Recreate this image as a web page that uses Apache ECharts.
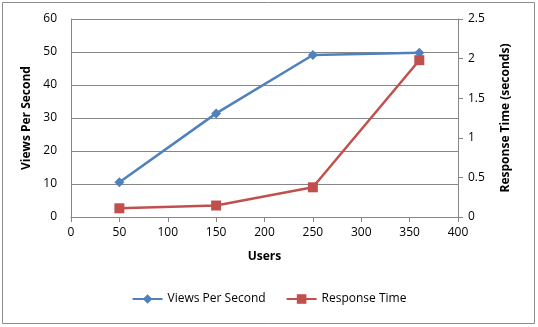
<!DOCTYPE html>
<html><head><meta charset="utf-8">
<script src="https://cdn.jsdelivr.net/npm/echarts@6/dist/echarts.min.js"></script>
<style>html,body{margin:0;padding:0;background:#fff}#c{width:538px;height:327px}</style>
</head><body><div id="c"></div>
<script>
const users = [50, 150, 250, 360];
const viewsPerSecond = [10.5, 31.4, 49.1, 49.8];
const responseTime = [0.11, 0.145, 0.375, 1.98];
const seriesNames = ['Views Per Second', 'Response Time'];
const FONT = '"Open Sans", "Liberation Sans", sans-serif';
const chart = echarts.init(document.getElementById('c'));
const axisLine = {show: true, lineStyle: {color: '#868686', width: 1}};
chart.setOption({
  animation: false,
  graphic: [{type: 'rect', shape: {x: 2.5, y: 2.5, width: 532, height: 321}, style: {fill: 'none', stroke: '#8c8c8c', lineWidth: 1}}],
  grid: {left: 71, right: 80, top: 19, bottom: 110},
  legend: {
    bottom: 17, left: 'center', itemGap: 20, itemWidth: 30, itemHeight: 12,
    textStyle: {fontFamily: FONT, fontSize: 12, color: '#000'},
    data: seriesNames
  },
  xAxis: {
    type: 'value', min: 0, max: 400, interval: 50,
    name: 'Users', nameLocation: 'middle', nameGap: 34,
    nameTextStyle: {fontFamily: FONT, fontSize: 12, fontWeight: 'bold', color: '#000'},
    axisLine: axisLine, axisTick: {show: true, length: 5, lineStyle: {color: '#868686'}},
    axisLabel: {fontFamily: FONT, fontSize: 12, color: '#000', margin: 10},
    splitLine: {show: false}
  },
  yAxis: [{
    type: 'value', min: 0, max: 60, interval: 10, position: 'left',
    name: 'Views Per Second', nameLocation: 'middle', nameGap: 34, nameRotate: 90,
    nameTextStyle: {fontFamily: FONT, fontSize: 12, fontWeight: 'bold', color: '#000'},
    axisLine: axisLine, axisTick: {show: false},
    axisLabel: {fontFamily: FONT, fontSize: 12, color: '#000', margin: 14},
    splitLine: {show: true, lineStyle: {color: '#868686', width: 1}}
  }, {
    type: 'value', min: 0, max: 2.5, interval: 0.5, position: 'right',
    name: 'Response Time (seconds)', nameLocation: 'middle', nameGap: 42, nameRotate: 90,
    nameTextStyle: {fontFamily: FONT, fontSize: 12, fontWeight: 'bold', color: '#000'},
    axisLine: axisLine, axisTick: {show: true, length: 5, lineStyle: {color: '#868686'}},
    axisLabel: {fontFamily: FONT, fontSize: 12, color: '#000', margin: 10},
    splitLine: {show: false}
  }],
  series: [{
    name: seriesNames[0], type: 'line', yAxisIndex: 0,
    data: users.map((u, i) => [u, viewsPerSecond[i]]),
    symbol: 'diamond', symbolSize: 10,
    lineStyle: {color: '#4F81BD', width: 2.5},
    itemStyle: {color: '#4F81BD'}
  }, {
    name: seriesNames[1], type: 'line', yAxisIndex: 1,
    data: users.map((u, i) => [u, responseTime[i]]),
    symbol: 'rect', symbolSize: 10,
    lineStyle: {color: '#C0504D', width: 2.5},
    itemStyle: {color: '#C0504D'}
  }]
});
</script></body></html>
